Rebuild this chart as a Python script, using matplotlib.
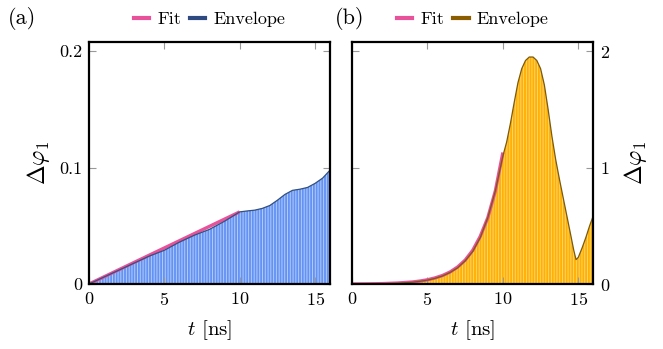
import numpy as np
import matplotlib
matplotlib.use('Agg')
import matplotlib.pyplot as plt
from matplotlib.lines import Line2D

plt.rcParams['font.family'] = 'serif'
plt.rcParams['font.serif'] = ['cmr10', 'DejaVu Serif']
plt.rcParams['mathtext.fontset'] = 'cm'
plt.rcParams['axes.formatter.use_mathtext'] = True
plt.rcParams['hatch.linewidth'] = 0.7

# panel (a) values
tA = [0, 1, 2, 3, 4, 5, 6, 7, 8, 9, 10, 10.5, 11, 11.5, 12, 12.5, 13, 13.5, 14,
      14.5, 15, 15.5, 16]
envA = [0, 0.006, 0.012, 0.018, 0.024, 0.029, 0.036, 0.042, 0.047, 0.054, 0.062,
        0.0628, 0.0635, 0.065, 0.0675, 0.072, 0.077, 0.0805, 0.0815, 0.083, 0.0865,
        0.091, 0.098]
tFitA = [0, 10]
fitA = [0, 0.062]

# panel (b)
tB = [0, 1, 2, 3, 4, 4.5, 5, 5.5, 6, 6.5, 7, 7.5, 8, 8.5, 9, 9.5, 10, 10.25, 10.5,
      10.75, 11, 11.25, 11.5, 11.75, 12, 12.25, 12.5, 12.75, 13, 13.25, 13.5, 13.75,
      14, 14.25, 14.5, 14.7, 14.85, 15, 15.25, 15.5, 15.75, 16]
envB = [0, 0.001, 0.003, 0.007, 0.016, 0.024, 0.034, 0.049, 0.07, 0.1, 0.14, 0.2,
        0.28, 0.4, 0.57, 0.8, 1.1, 1.22, 1.38, 1.56, 1.73, 1.85, 1.92, 1.95, 1.95,
        1.92, 1.85, 1.71, 1.5, 1.27, 1.07, 0.9, 0.74, 0.58, 0.42, 0.29, 0.21, 0.23,
        0.31, 0.4, 0.5, 0.59]
tFitB = [0, 1, 2, 3, 4, 4.5, 5, 5.5, 6, 6.5, 7, 7.5, 8, 8.5, 9, 9.5, 10]
fitB = [0.001, 0.002, 0.004, 0.009, 0.018, 0.026, 0.037, 0.053, 0.074, 0.104, 0.147,
        0.206, 0.29, 0.41, 0.57, 0.8, 1.13]

pink = '#e8529a'

fig = plt.figure(figsize=(6.63, 3.49), dpi=100)
axA = fig.add_axes([0.134, 0.186, 0.364, 0.694])
axB = fig.add_axes([0.531, 0.186, 0.364, 0.694])


def style(ax, ymax, yticks):
    ax.set_xlim(0, 16)
    ax.set_ylim(0, ymax)
    ax.set_xticks([0, 5, 10, 15])
    ax.set_yticks(yticks)
    ax.tick_params(direction='in', length=5, width=0.8, color='#999999',
                   top=True, right=True, labelsize=13, pad=5)
    for s in ax.spines.values():
        s.set_linewidth(1.6)
    ax.set_xlabel(r'$t$ [ns]', fontsize=15, labelpad=7)


def legend(ax, envcol):
    ax.legend(handles=[Line2D([], [], color=pink, lw=3),
                       Line2D([], [], color=envcol, lw=3)],
              labels=['Fit', 'Envelope'], loc='lower center',
              bbox_to_anchor=(0.5, 1.03), ncol=2, frameon=False, fontsize=13,
              handlelength=0.85, handletextpad=0.45, columnspacing=0.5,
              borderaxespad=0)


# (a)
axA.fill_between(tA, envA, 0, facecolor='#6292f3', edgecolor='#b4cbfb',
                 hatch='||||||', linewidth=0)
axA.plot(tFitA, fitA, color=pink, lw=2.4, solid_capstyle='butt')
axA.plot(tA, envA, color='#33507e', lw=0.9)
style(axA, 0.208, [0, 0.1, 0.2])
axA.set_yticklabels(['0', '0.1', '0.2'])
axA.set_ylabel(r'$\Delta\varphi_1$', fontsize=17, labelpad=5)
legend(axA, '#2e4a80')

# (b)
axB.fill_between(tB, envB, 0, facecolor='#ffb000', edgecolor='#ffd470',
                 hatch='||||||', linewidth=0)
axB.plot(tFitB, fitB, color=pink, lw=2.4, solid_capstyle='butt')
axB.plot(tB, envB, color='#7a5a10', lw=0.9)
style(axB, 2.08, [0, 1, 2])
axB.yaxis.tick_right()
axB.yaxis.set_ticks_position('both')
axB.tick_params(labelleft=False, labelright=True)
axB.yaxis.set_label_position('right')
axB.set_ylabel(r'$\Delta\varphi_1$', fontsize=17, labelpad=8)
legend(axB, '#8a5e00')

fig.text(0.012, 0.948, '(a)', fontsize=16, va='center')
fig.text(0.505, 0.948, '(b)', fontsize=16, va='center')

fig.savefig('out.png', dpi=100)
